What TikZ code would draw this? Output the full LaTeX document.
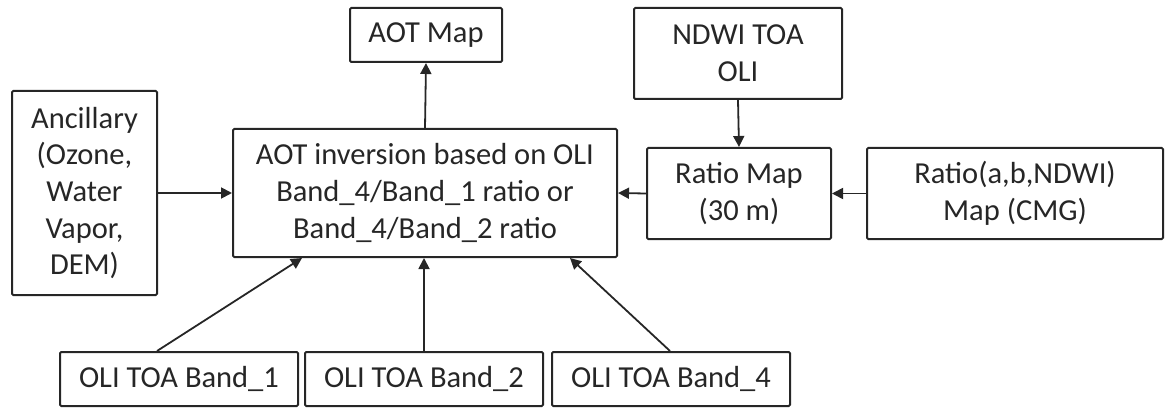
\documentclass[tikz,border=0pt]{standalone}
\usepackage{fontspec}
\setmainfont{Carlito}
\usetikzlibrary{arrows.meta,calc}
\definecolor{ink}{HTML}{262626}
\tikzset{
  box/.style={draw=ink, line width=2pt, rounded corners=1.2pt, inner sep=0pt,
    align=center, text=ink, font=\fontsize{30.5}{36.6}\selectfont},
  conn/.style={draw=ink, line width=1.8pt, -{Triangle[length=11pt,width=11pt]}}
}
\begin{document}
\begin{tikzpicture}[x=1pt,y=-1pt]
\useasboundingbox (0,0) rectangle (1165,409);
\node[box, minimum width=152pt, minimum height=54pt] (aotmap) at (426,35) {AOT Map};
\node[box, minimum width=208pt, minimum height=91pt] (ndwi) at (738,53.5) {NDWI TOA\\OLI};
\node[box, minimum width=145pt, minimum height=204pt] (anc) at (84.5,193) {Ancillary\\(Ozone,\\Water\\Vapor,\\DEM)};
\node[box, minimum width=384pt, minimum height=128pt] (main) at (425,193) {AOT inversion based on OLI\\Band\_4/Band\_1 ratio or\\Band\_4/Band\_2 ratio};
\node[box, minimum width=184pt, minimum height=91pt] (ratio) at (739,193.5) {Ratio Map\\(30 m)};
\node[box, minimum width=296pt, minimum height=91pt] (cmg) at (1015,193.5) {Ratio(a,b,NDWI)\\Map (CMG)};
\node[box, minimum width=238pt, minimum height=54pt] (b1) at (179,379) {OLI TOA Band\_1};
\node[box, minimum width=238pt, minimum height=54pt] (b2) at (424,379) {OLI TOA Band\_2};
\node[box, minimum width=238pt, minimum height=54pt] (b4) at (671,379) {OLI TOA Band\_4};
\draw[conn] (main.north) -- (aotmap.south);
\draw[conn] (anc.east) -- (main.west);
\draw[conn] (ndwi.south) -- (ratio.north);
\draw[conn] (ratio.west) -- (main.east);
\draw[conn] (cmg.west) -- (ratio.east);
\draw[conn] ($(b1.north)+(-22,0)$) -- ($(main.south)+(-123,0)$);
\draw[conn] (b2.north) -- (b2.north |- main.south);
\draw[conn] ($(b4.north)+(-1,0)$) -- ($(main.south)+(145,0)$);
\end{tikzpicture}
\end{document}
